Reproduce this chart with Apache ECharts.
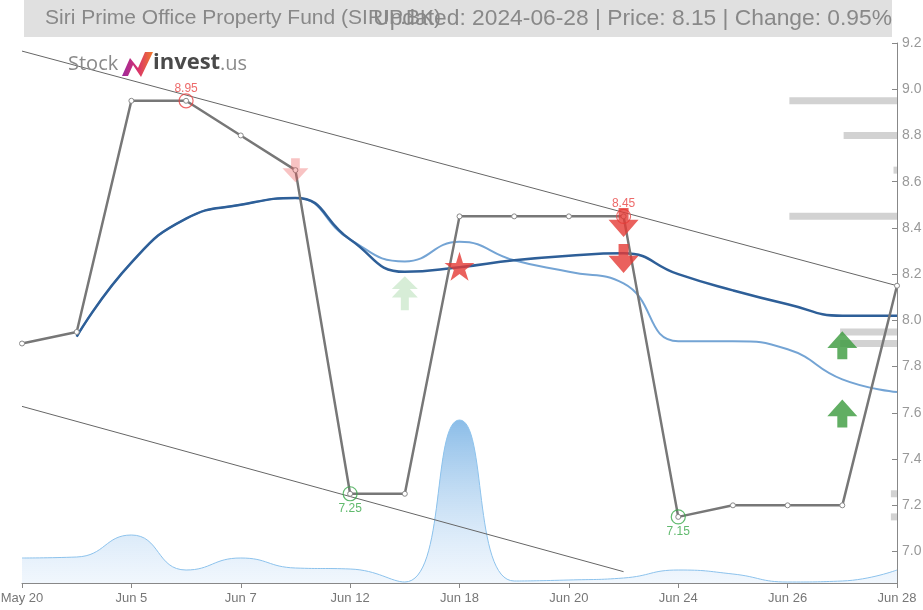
<!DOCTYPE html>
<html>
<head>
<meta charset="utf-8">
<script src="https://cdn.jsdelivr.net/npm/echarts@6/dist/echarts.min.js"></script>
<style>
  * { margin: 0; padding: 0; }
  html, body { width: 923px; height: 610px; background: #fff; }
  #chart { width: 923px; height: 610px; }
</style>
</head>
<body>
<div id="chart"></div>
<script>
// 价格数据
const dates = ['May 20','Jun 4','Jun 5','Jun 6','Jun 7','Jun 11','Jun 12','Jun 14','Jun 18','Jun 19','Jun 20','Jun 21','Jun 24','Jun 25','Jun 26','Jun 27','Jun 28'];
const prices = [7.9, 7.95, 8.95, 8.95, 8.8, 8.65, 7.25, 7.25, 8.45, 8.45, 8.45, 8.45, 7.15, 7.2, 7.2, 7.2, 8.15];
const maSlow = [null, 7.93, 8.25, 8.44, 8.50, 8.53, 8.35, 8.21, 8.23, 8.26, 8.28, 8.29, 8.20, 8.13, 8.07, 8.02, 8.02];
const maFast = [null, 7.93, 8.25, 8.44, 8.50, 8.53, 8.35, 8.255, 8.34, 8.26, 8.21, 8.16, 7.91, 7.91, 7.875, 7.745, 7.69];
const volumes = [250000, 260000, 480000, 130000, 250000, 150000, 140000, 10000, 1630000, 20000, 30000, 50000, 130000, 90000, 10000, 20000, 130000];

// 趋势线 [index, price]
const upperTrend = [[0, 9.165], [16, 8.15]];
const lowerTrend = [[0, 7.628], [11, 6.913]];

// 价位分布
const levelPrices = [8.95, 8.8, 8.65, 8.45, 7.95, 7.9, 7.25, 7.15];
const levelWeights = [0.123, 0.061, 0.004, 0.123, 0.065, 0.065, 0.007, 0.007];

// 高低点
const highPoints = [[3, 8.95], [11, 8.45]];
const lowPoints = [[6, 7.25], [12, 7.15]];

// 信号
const sellWeak = [[5, 8.649]];
const buyWeak = [[7, 8.117]];
const sellStar = [[8, 8.234]];
const sellStrong = [[11, 8.424], [11, 8.268]];
const buyStrong = [[15, 7.892], [15, 7.597]];

const yMin = 6.864, yMax = 9.2;
const font = "'Liberation Sans', Arial, sans-serif";

const upArrow = 'path://M15,0 L30,16 L20,16 L20,27 L10,27 L10,16 L0,16 Z';
const downArrow = 'path://M10,0 L20,0 L20,11 L30,11 L15,27 L0,11 L10,11 Z';
const doubleUp = 'path://M13,0 L26,12 L18,12 L26,20 L17,20 L17,32 L9,32 L9,20 L0,20 L8,12 L0,12 Z';
const star = 'path://M50,0 L61,35 L98,35 L68,57 L79,91 L50,70 L21,91 L32,57 L2,35 L39,35 Z';

const chart = echarts.init(document.getElementById('chart'));
chart.setOption({
  animation: false,
  title: [
    {
      text: 'Siri Prime Office Property Fund (SIRIP.BK)',
      left: 45, top: 8, padding: 0,
      textStyle: { color: '#888', fontSize: 21, fontWeight: 'normal', fontFamily: font }
    },
    {
      text: 'Updated: 2024-06-28 | Price: 8.15 | Change: 0.95%',
      right: 31, top: 7, padding: 0,
      textStyle: { color: '#888', fontSize: 22.8, fontWeight: 'normal', fontFamily: font }
    }
  ],
  graphic: [
    { type: 'rect', z: 0, shape: { x: 24, y: 0, width: 868, height: 37 }, style: { fill: '#e0e0e0' } },
    { type: 'text', z: 10, x: 68, y: 54, style: { text: 'Stock', fill: '#8a8a8a', font: '20px "Open Sans", sans-serif' } },
    { type: 'polygon', z: 10, shape: { points: [[122, 76], [130, 58], [138, 68], [145, 52], [153, 52], [141, 77], [133, 65], [128, 76]] },
      style: { fill: new echarts.graphic.LinearGradient(0, 0, 1, 0, [{ offset: 0, color: '#9b2a9e' }, { offset: 0.5, color: '#d8306e' }, { offset: 1, color: '#f07a2a' }]) } },
    { type: 'text', z: 10, x: 153, y: 52, style: { text: 'invest', fill: '#4a4a4a', font: 'bold 22px "Open Sans", sans-serif' } },
    { type: 'text', z: 10, x: 220, y: 54, style: { text: '.us', fill: '#8a8a8a', font: '20px "Open Sans", sans-serif' } }
  ],
  grid: { left: 22, right: 26, top: 43, bottom: 27, containLabel: false, outerBoundsMode: 'none' },
  xAxis: [
    {
      type: 'category',
      data: dates,
      boundaryGap: false,
      axisLine: { lineStyle: { color: '#888' } },
      axisTick: { interval: 1, length: 5, lineStyle: { color: '#888' } },
      axisLabel: { interval: 1, color: '#777', fontSize: 13, fontFamily: font, margin: 9,
        alignMinLabel: 'center', alignMaxLabel: 'center' }
    },
    { type: 'value', min: 0, max: 1, inverse: true, show: false }
  ],
  yAxis: [
    {
      type: 'value',
      position: 'right',
      min: yMin, max: yMax,
      splitNumber: 12,
      splitLine: { show: false },
      axisLine: { show: true, lineStyle: { color: '#888' } },
      axisTick: { show: true, inside: true, length: 5, lineStyle: { color: '#888' } },
      axisLabel: { color: '#999', fontSize: 14, fontFamily: font, margin: 5, showMinLabel: false,
        formatter: v => v.toFixed(1) }
    },
    { type: 'value', min: 0, max: 5400000, show: false }
  ],
  series: [
    {
      name: 'volume', type: 'line', xAxisIndex: 0, yAxisIndex: 1,
      data: volumes, smooth: true, symbol: 'none', clip: false, z: 1,
      lineStyle: { color: '#8cc2ec', width: 1 },
      areaStyle: { color: new echarts.graphic.LinearGradient(0, 0, 0, 1, [
        { offset: 0, color: 'rgba(80,155,220,0.95)' },
        { offset: 1, color: 'rgba(215,232,250,0.5)' }]) }
    },
    {
      name: 'levels', type: 'custom', xAxisIndex: 1, yAxisIndex: 0, z: 2, silent: true,
      data: levelPrices.map((p, i) => [levelWeights[i], p]),
      encode: { x: 0, y: 1 },
      renderItem: function (params, api) {
        const p0 = api.coord([0, api.value(1)]);
        const p1 = api.coord([api.value(0), api.value(1)]);
        return {
          type: 'rect',
          shape: { x: Math.min(p0[0], p1[0]), y: p0[1] - 3.5, width: Math.abs(p1[0] - p0[0]), height: 7 },
          style: { fill: '#d2d2d2' }
        };
      }
    },
    {
      name: 'maFast', type: 'line', data: maFast, smooth: true, symbol: 'none', z: 3,
      lineStyle: { color: '#74a4d4', width: 2 }
    },
    {
      name: 'maSlow', type: 'line', data: maSlow, smooth: true, symbol: 'none', z: 4,
      lineStyle: { color: '#2e5f98', width: 2.5 }
    },
    {
      name: 'price', type: 'line', data: prices, z: 5,
      symbol: 'circle', symbolSize: 5, showAllSymbol: true,
      lineStyle: { color: '#777', width: 2.5 },
      itemStyle: { color: '#fff', borderColor: '#888', borderWidth: 1 },
      markLine: {
        silent: true, symbol: 'none', label: { show: false },
        lineStyle: { color: '#666', width: 1, type: 'solid' },
        data: [
          [{ coord: upperTrend[0] }, { coord: upperTrend[1] }],
          [{ coord: lowerTrend[0] }, { coord: lowerTrend[1] }]
        ]
      }
    },
    {
      name: 'highs', type: 'scatter', data: highPoints, z: 6,
      symbol: 'circle', symbolSize: 14,
      itemStyle: { color: 'rgba(0,0,0,0)', borderColor: '#e84545', borderWidth: 1.2 },
      label: { show: true, position: 'top', distance: -1, color: '#e84545', fontSize: 12,
        formatter: p => p.value[1].toFixed(2) }
    },
    {
      name: 'lows', type: 'scatter', data: lowPoints, z: 6,
      symbol: 'circle', symbolSize: 14,
      itemStyle: { color: 'rgba(0,0,0,0)', borderColor: '#3aa94a', borderWidth: 1.2 },
      label: { show: true, position: 'bottom', distance: 1, color: '#3aa94a', fontSize: 12,
        formatter: p => p.value[1].toFixed(2) }
    },
    {
      name: 'sellWeak', type: 'scatter', data: sellWeak, z: 7,
      symbol: downArrow, symbolSize: [26, 24],
      itemStyle: { color: 'rgba(235,90,90,0.45)' }
    },
    {
      name: 'buyWeak', type: 'scatter', data: buyWeak, z: 7,
      symbol: doubleUp, symbolSize: [26, 34],
      itemStyle: { color: 'rgba(90,180,90,0.3)' }
    },
    {
      name: 'sellStar', type: 'scatter', data: sellStar, z: 8,
      symbol: star, symbolSize: [30, 29],
      itemStyle: { color: '#e53935' }
    },
    {
      name: 'sellStrong', type: 'scatter', data: sellStrong, z: 8,
      symbol: downArrow, symbolSize: [30, 29],
      itemStyle: { color: '#e53935' }
    },
    {
      name: 'buyStrong', type: 'scatter', data: buyStrong, z: 8,
      symbol: upArrow, symbolSize: [30, 28],
      itemStyle: { color: '#3a9a3c' }
    }
  ]
});
</script>
</body>
</html>
